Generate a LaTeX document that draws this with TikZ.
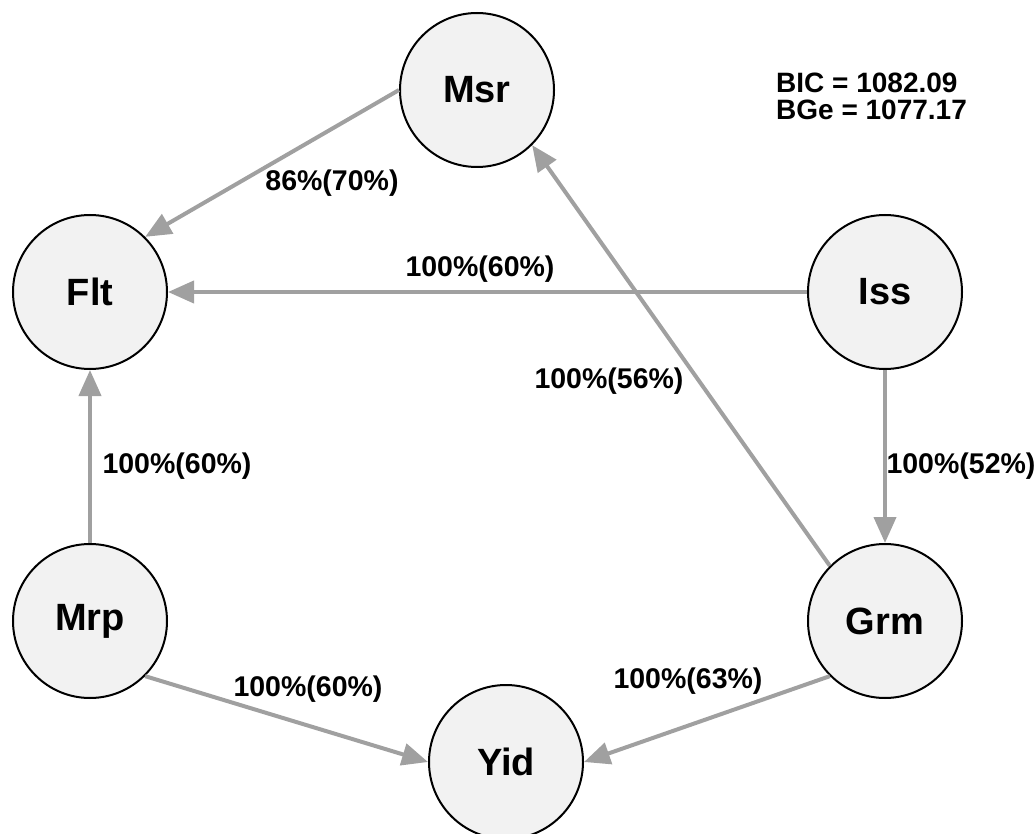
\documentclass[tikz,border=0pt]{standalone}
\usepackage{fontspec}
\setmainfont{Liberation Sans}
\usetikzlibrary{arrows.meta}
\definecolor{nodefill}{RGB}{242,242,242}
\definecolor{edgegray}{RGB}{160,160,160}
\begin{document}
\begin{tikzpicture}[x=1pt,y=-1pt,
  var/.style={circle, draw=black, line width=2pt, fill=nodefill, minimum size=154pt,
    inner sep=0pt, font=\fontsize{38}{40}\selectfont\bfseries},
  link/.style={draw=edgegray, line width=4pt, -{Triangle[length=26pt,width=22pt]}},
  lbl/.style={font=\fontsize{28.5}{30}\selectfont\bfseries, inner sep=0pt},
  score/.style={font=\fontsize{28}{30}\selectfont\bfseries, inner sep=0pt, anchor=west}]
\useasboundingbox (0,0) rectangle (1036,834);

% variables
\node[var] (msr) at (477,90)  {Msr};
\node[var] (flt) at (90,292)  {Flt};
\node[var] (iss) at (885,292) {Iss};
\node[var] (mrp) at (90,621)  {Mrp};
\node[var] (grm) at (885,621) {Grm};
\node[var] (yid) at (506,762) {Yid};

% arcs
\draw[link] (msr.west) -- (flt.north east);
\draw[link] (iss.west) -- (flt.east);
\draw[link] (grm.north west) -- (msr.south east);
\draw[link] (iss.south) -- (grm.north);
\draw[link] (mrp.north) -- (flt.south);
\draw[link] (mrp.south east) -- (yid.west);
\draw[link] (grm.south west) -- (yid.east);

% arc strengths
\node[lbl] (l1) at (332,183) {86\%(70\%)};
\node[lbl] (l2) at (480,269) {100\%(60\%)};
\node[lbl] (l3) at (609,381) {100\%(56\%)};
\node[lbl] (l4) at (961,466) {100\%(52\%)};
\node[lbl] (l5) at (177,466) {100\%(60\%)};
\node[lbl] (l6) at (308,689) {100\%(60\%)};
\node[lbl] (l7) at (688,681) {100\%(63\%)};

% scores
\node[score] (bic) at (776,83)  {BIC = 1082.09};
\node[score] (bge) at (776,110) {BGe = 1077.17};
\end{tikzpicture}
\end{document}
